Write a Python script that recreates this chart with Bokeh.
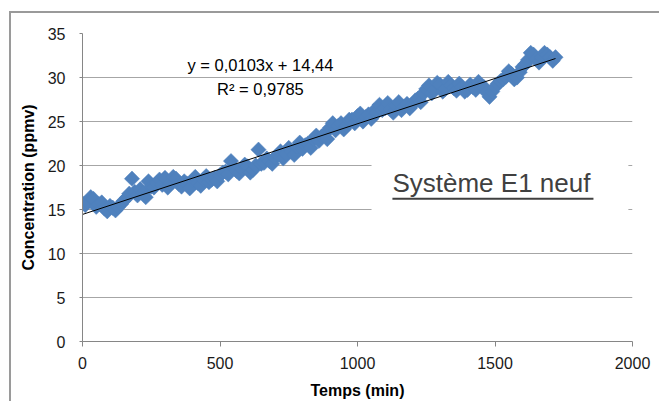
import math
from bokeh.plotting import figure
from bokeh.models import FixedTicker, BoxAnnotation, Label, ColumnDataSource, Range1d
from bokeh.embed import file_html
from bokeh.resources import INLINE

# Data
temps = [0, 10, 20, 30, 40, 50, 60, 70, 80, 90, 100, 110, 120, 130, 140, 150, 160,
         170, 180, 190, 200, 210, 220, 230, 240, 250, 260, 270, 280, 290, 300, 310,
         320, 330, 340, 350, 360, 370, 380, 390, 400, 410, 420, 430, 440, 450, 460,
         470, 480, 490, 500, 510, 520, 530, 540, 550, 560, 570, 580, 590, 600, 610,
         620, 630, 640, 650, 660, 670, 680, 690, 700, 710, 720, 730, 740, 750, 760,
         770, 780, 790, 800, 810, 820, 830, 840, 850, 860, 870, 880, 890, 900, 910,
         920, 930, 940, 950, 960, 970, 980, 990, 1000, 1010, 1020, 1030, 1040, 1050,
         1060, 1070, 1080, 1090, 1100, 1110, 1120, 1130, 1140, 1150, 1160, 1170,
         1180, 1190, 1200, 1210, 1220, 1230, 1240, 1250, 1260, 1270, 1280, 1290,
         1300, 1310, 1320, 1330, 1340, 1350, 1360, 1370, 1380, 1390, 1400, 1410,
         1420, 1430, 1440, 1450, 1460, 1470, 1480, 1490, 1500, 1510, 1520, 1530,
         1540, 1550, 1560, 1570, 1580, 1590, 1600, 1610, 1620, 1630, 1640, 1650,
         1660, 1670, 1680, 1690, 1700, 1710, 1720]
concentration = [15.7, 15.5, 15.9, 16.4, 16.2, 15.3, 15.6, 15.8, 15.1, 14.8, 15.4,
                 15.2, 14.9, 15.3, 15.6, 16.0, 16.3, 16.8, 18.5, 17.0, 16.6, 17.3,
                 16.9, 16.4, 18.2, 17.6, 17.5, 18.0, 18.4, 17.8, 18.6, 17.5, 18.0,
                 18.7, 18.5, 17.9, 17.6, 18.2, 17.9, 17.4, 18.3, 18.7, 18.0, 17.7,
                 18.4, 18.8, 18.1, 18.4, 18.6, 18.2, 18.9, 19.2, 19.3, 19.0, 20.5,
                 19.7, 19.4, 19.1, 19.6, 20.1, 19.9, 19.2, 19.5, 20.0, 21.8, 20.2,
                 20.3, 20.8, 20.5, 20.2, 20.9, 21.2, 21.6, 20.8, 21.3, 22.0, 21.6,
                 21.2, 22.1, 22.6, 21.9, 22.3, 22.5, 22.0, 23.0, 23.4, 22.8, 23.3,
                 23.6, 23.0, 24.3, 24.8, 24.0, 24.5, 24.8, 24.1, 24.5, 25.2, 25.2,
                 24.8, 25.6, 25.9, 25.0, 25.5, 25.8, 25.3, 26.2, 26.0, 26.9, 26.3,
                 26.5, 27.1, 26.4, 26.0, 26.8, 27.2, 26.3, 26.7, 27.0, 26.5, 26.9,
                 27.4, 27.6, 27.2, 28.2, 28.7, 29.1, 28.2, 28.6, 29.4, 29.2, 28.4,
                 28.7, 29.5, 29.1, 28.8, 28.5, 29.3, 28.9, 28.4, 28.6, 29.2, 28.9,
                 28.6, 29.5, 29.1, 28.9, 28.3, 27.8, 28.4, 28.9, 29.3, 29.6, 29.8,
                 30.1, 30.7, 30.4, 29.8, 30.0, 30.6, 31.2, 31.5, 32.0, 32.8, 32.6,
                 32.1, 31.7, 32.3, 32.8, 32.6, 32.3, 31.9, 32.3]
slope = 0.0103
intercept = 14.44
x_ticks = [0, 500, 1000, 1500, 2000]
y_ticks = [0, 5, 10, 15, 20, 25, 30, 35]
x_title = "Temps (min)"
y_title = "Concentration (ppmv)"
equation_text = "y = 0,0103x + 14,44\nR² = 0,9785"
note_text = "Système E1 neuf"

FONT = "Liberation Sans"
AX = "#868686"

p = figure(width=659, height=401, output_backend="svg", toolbar_location=None,
           x_range=Range1d(0, 2000), y_range=Range1d(0, 35),
           min_border_left=82, min_border_right=27, min_border_top=33, min_border_bottom=59)
p.outline_line_color = None
p.background_fill_color = "white"
p.border_fill_color = None
p.styles = {
    "background": ("linear-gradient(#9a9a9a,#9a9a9a) 9px 11px / 2px 420px no-repeat, "
                   "linear-gradient(#9a9a9a,#9a9a9a) 9px 11px / 700px 2px no-repeat, white"),
}

src = ColumnDataSource(dict(x=temps, y=concentration))
p.scatter("x", "y", source=src, marker="square", size=10.8, angle=math.pi / 4,
          fill_color="#4F81BD", line_color="#4F81BD", line_width=0.5)

x0, x1 = temps[0], temps[-1]
p.line([x0, x1], [slope * x0 + intercept, slope * x1 + intercept],
       line_color="black", line_width=1)

for ax, ticks in ((p.xaxis[0], x_ticks), (p.yaxis[0], y_ticks)):
    ax.ticker = FixedTicker(ticks=ticks)
    ax.minor_tick_line_color = None
    ax.axis_line_color = AX
    ax.major_tick_line_color = AX
    ax.major_tick_in = 0
    ax.major_label_text_font = FONT
    ax.major_label_text_font_size = "16px"
    ax.major_label_text_color = "#1a1a1a"
    ax.axis_label_text_font = FONT
    ax.axis_label_text_font_size = "16px"
    ax.axis_label_text_font_style = "bold"
    ax.axis_label_text_color = "black"

p.xaxis.axis_label = x_title
p.xaxis.major_tick_out = 5
p.xaxis.major_label_standoff = 10
p.xaxis.axis_label_standoff = 10
p.yaxis.axis_label = y_title
p.yaxis.major_tick_out = 3
p.yaxis.major_label_standoff = 14
p.yaxis.axis_label_standoff = 8

p.xgrid.grid_line_color = None
p.ygrid.grid_line_color = "#A6A6A6"
p.ygrid.grid_line_width = 1

# white text box hiding gridlines
p.add_layout(BoxAnnotation(left=1051, right=1985, bottom=14.3, top=20.7,
                           fill_color="white", fill_alpha=1, line_color=None))

p.add_layout(Label(x=1127, y=18.0, text=note_text, text_font=FONT,
                   text_font_size="26px", text_color="#404040",
                   text_baseline="alphabetic"))
p.add_layout(BoxAnnotation(left=1127, right=1858, bottom=16.12, top=16.34,
                           fill_color="#404040", fill_alpha=1, line_color=None))

p.add_layout(Label(x=647, y=30.1, text=equation_text, text_font=FONT,
                   text_font_size="16.5px", text_color="black", text_align="center",
                   text_baseline="middle", text_line_height=1.33))

open("out.html", "w").write(file_html(p, INLINE))
